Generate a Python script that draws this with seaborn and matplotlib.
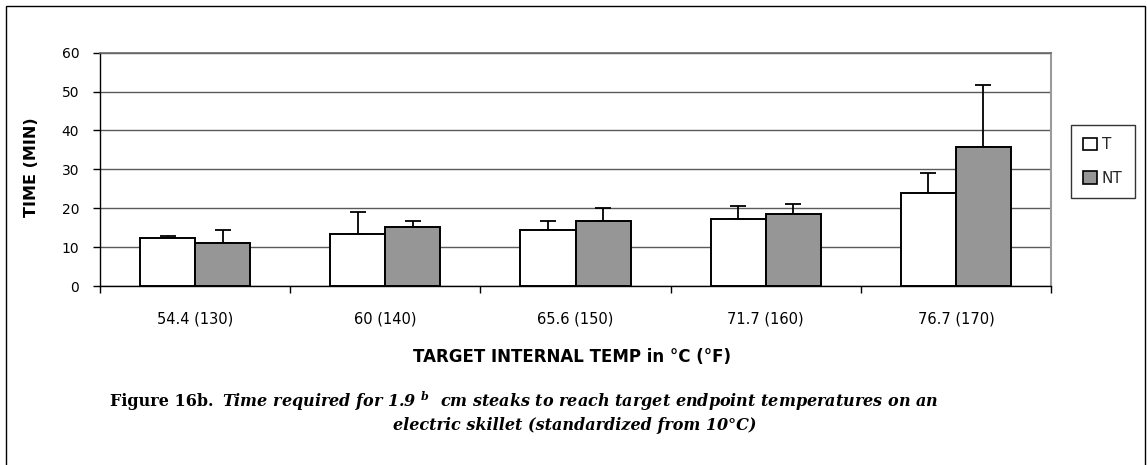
import numpy as np
import pandas as pd
import matplotlib
matplotlib.use("Agg")
import matplotlib.pyplot as plt
import seaborn as sns
from matplotlib.patches import Rectangle, Patch

# ---- data ----
categories = ["54.4 (130)", "60 (140)", "65.6 (150)", "71.7 (160)", "76.7 (170)"]
groups = ["T", "NT"]
t_mean = [12.4, 13.4, 14.3, 17.2, 23.8]
t_err = [0.5, 5.6, 2.3, 3.3, 5.3]
nt_mean = [11.0, 15.2, 16.6, 18.6, 35.7]
nt_err = [3.4, 1.4, 3.4, 2.4, 16.0]
y_ticks = [0, 10, 20, 30, 40, 50, 60]

df = pd.DataFrame({
    "temp": categories * 2,
    "group": ["T"] * len(categories) + ["NT"] * len(categories),
    "time": t_mean + nt_mean,
})
errs = {"T": t_err, "NT": nt_err}

sns.set_theme(style="white")
plt.rcParams['font.family'] = ['DejaVu Sans']
plt.rcParams['mathtext.fontset'] = 'custom'
plt.rcParams['mathtext.it'] = 'DejaVu Serif:italic:bold'
plt.rcParams['mathtext.rm'] = 'DejaVu Serif:italic:bold'

W, H = 1147, 465
fig = plt.figure(figsize=(W / 100, H / 100), dpi=100)
fig.patch.set_facecolor("white")
ax = fig.add_axes([100 / W, 1 - 286 / H, 951 / W, 233.3 / H])

colors = {"T": "white", "NT": "#969696"}
sns.barplot(data=df, x="temp", y="time", hue="group", order=categories,
            hue_order=groups, palette=colors, width=0.58, edgecolor="black",
            linewidth=1.4, errorbar=None, ax=ax, legend=False, zorder=3)

for cont, g in zip(ax.containers, groups):
    xs = [p.get_x() + p.get_width() / 2 for p in cont]
    hs = [p.get_height() for p in cont]
    e = errs[g]
    ax.errorbar(xs, hs, yerr=[np.zeros(len(e)), e], fmt="none",
                ecolor="black", elinewidth=1.3, capsize=6, capthick=1.3,
                zorder=2)

ax.set_ylim(0, 60)
ax.set_xlim(-0.5, len(categories) - 0.5)
ax.set_yticks(y_ticks)
ax.yaxis.grid(True, color="#5a5a5a", linewidth=1.0)
ax.xaxis.grid(False)
ax.set_axisbelow(True)

for s in ["left", "bottom"]:
    ax.spines[s].set_color("black")
    ax.spines[s].set_linewidth(1.0)
ax.spines["top"].set_color("#6a6a6a")
ax.spines["top"].set_linewidth(1.2)
ax.spines["right"].set_color("#9a9a9a")
ax.spines["right"].set_linewidth(1.5)

ax.tick_params(axis="y", left=True, length=5, width=1, color="black",
               direction="out", pad=10, labelsize=10, labelcolor="black")
ax.set_xticks(range(len(categories)))
ax.set_xticklabels(categories)
ax.set_xticks(np.arange(-0.5, len(categories), 1.0), minor=True)
ax.tick_params(axis="x", which="major", bottom=True, length=0, pad=18,
               labelsize=10.5, labelcolor="black")
ax.tick_params(axis="x", which="minor", bottom=True, length=5, width=1,
               color="black", direction="out")

ax.set_xlabel("TARGET INTERNAL TEMP in °C (°F)", fontsize=12,
              fontweight="bold", color="black")
ax.xaxis.label.set_va("center")
ax.xaxis.set_label_coords((572 - 100) / 951, (286 - 357) / 233.3)
ax.set_ylabel("TIME (MIN)", fontsize=11.5, fontweight="bold", color="black")
ax.yaxis.label.set_va("center")
ax.yaxis.set_label_coords((32 - 100) / 951, (286 - 167) / 233.3)

handles = [Patch(facecolor=colors[g], edgecolor="black", linewidth=1.2, label=g)
           for g in groups]
leg = fig.legend(handles=handles, loc="upper left",
                 bbox_to_anchor=(1071 / W, 1 - 125 / H), frameon=True,
                 fancybox=False, edgecolor="black", fontsize=11,
                 handlelength=0.9, handleheight=0.9, handletextpad=0.3,
                 borderpad=0.8, labelspacing=1.2, borderaxespad=0)
leg.get_frame().set_linewidth(1.0)

fig.add_artist(Rectangle((6 / W, -0.1), (1145 - 6) / W, 1 - 6 / H + 0.1,
                         transform=fig.transFigure, fill=False,
                         edgecolor="black", linewidth=1.0))

serif = "DejaVu Serif"
t1 = fig.text(110 / W, 1 - 401 / H, "Figure 16b.", fontfamily=serif,
              fontweight="bold", fontsize=11.5, va="center", color="black")
fig.canvas.draw()
bb = t1.get_window_extent(renderer=fig.canvas.get_renderer())
fig.text((bb.x1 + 8) / W, 1 - 401 / H,
         "Time required for 1.9 $^{b}$  cm steaks to reach target endpoint temperatures on an",
         fontfamily=serif, fontweight="bold", fontstyle="italic",
         fontsize=11.5, va="center", color="black")
fig.text(575 / W, 1 - 425 / H, "electric skillet (standardized from 10°C)",
         fontfamily=serif, fontweight="bold", fontstyle="italic",
         fontsize=11.5, va="center", ha="center", color="black")

fig.savefig("out.png", dpi=100, facecolor="white")
